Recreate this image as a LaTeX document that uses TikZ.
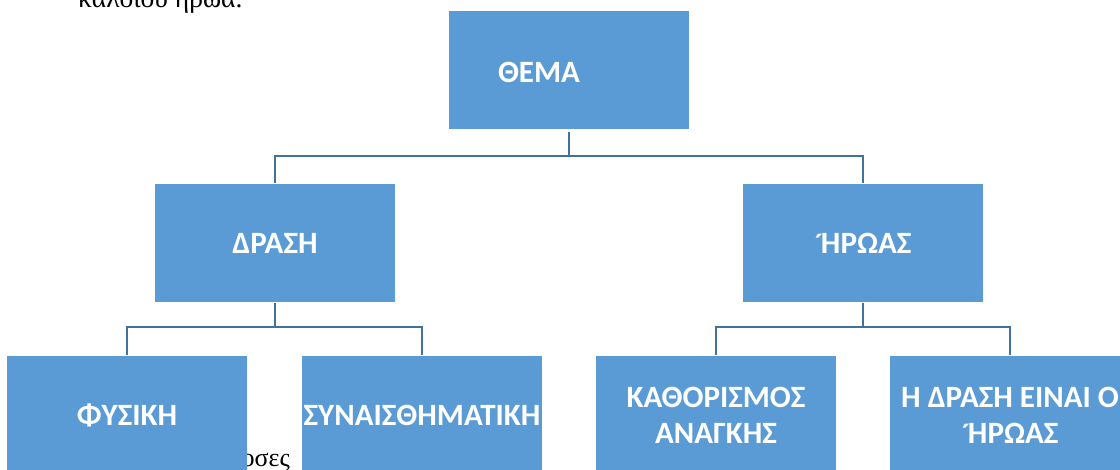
\documentclass[tikz,border=0pt]{standalone}
\usepackage{fontspec}
\setmainfont{Liberation Serif}
\newfontfamily\boxfont{Carlito}
\usepackage{tikz}
\usetikzlibrary{positioning}
\definecolor{boxblue}{HTML}{5B9BD5}
\definecolor{lineblue}{HTML}{41719C}

\newcommand{\tonosEta}{{\fontsize{28}{30}\selectfont ´}\kern-2pt Η}

\tikzset{
  box/.style={fill=boxblue, draw=none, minimum width=240pt, minimum height=118pt,
    text=white, font=\boxfont\bfseries\fontsize{31}{36}\selectfont, align=center, inner sep=0pt},
  link/.style={draw=lineblue, line width=1.8pt}
}

\begin{document}
\begin{tikzpicture}[x=1pt,y=-1pt]
\useasboundingbox (0,0) rectangle (1120,470);
\clip (0,0) rectangle (1120,470);

% page text behind the chart
\node[anchor=base west, inner sep=0pt, font=\fontsize{27.5}{30}\selectfont] (line1) at (78,8) {καλοιού ήρωα.};
\node[anchor=base east, inner sep=0pt, font=\fontsize{26}{30}\selectfont] (line2) at (290,466) {οσες};

% boxes
\node[box] (thema) at (569,70.5) {};
\node[text=white, font=\boxfont\bfseries\fontsize{31}{36}\selectfont, inner sep=0pt] (thematxt) at (539,72) {ΘΕΜΑ};

\node[box] (drasi) at (275,243) {ΔΡΑΣΗ};
\node[box] (iroas) at (863,243) {\tonosEta ΡΩΑΣ};

\node[box] (fysiki) at (127,415) {ΦΥΣΙΚΗ};
\node[box] (synais) at (422,415) {ΣΥΝΑΙΣΘΗΜΑΤΙΚΗ};
\node[box] (kathor) at (716,415) {ΚΑΘΟΡΙΣΜΟΣ\\ΑΝΑΓΚΗΣ};
\node[box] (drasiiroas) at (1010,415) {Η ΔΡΑΣΗ ΕΙΝΑΙ Ο\\\tonosEta ΡΩΑΣ};

% connectors
\draw[link] ([yshift=-2pt]thema.south) -- ++(0,24) -| ([yshift=1pt]drasi.north);
\draw[link] ([yshift=-2pt]thema.south) -- ++(0,24) -| ([yshift=1pt]iroas.north);

\draw[link] ([yshift=-1pt]drasi.south) -- ++(0,24) -| ([yshift=1pt]fysiki.north);
\draw[link] ([yshift=-1pt]drasi.south) -- ++(0,24) -| ([yshift=1pt]synais.north);
\draw[link] ([yshift=-1pt]iroas.south) -- ++(0,24) -| ([yshift=1pt]kathor.north);
\draw[link] ([yshift=-1pt]iroas.south) -- ++(0,24) -| ([yshift=1pt]drasiiroas.north);
\end{tikzpicture}
\end{document}
